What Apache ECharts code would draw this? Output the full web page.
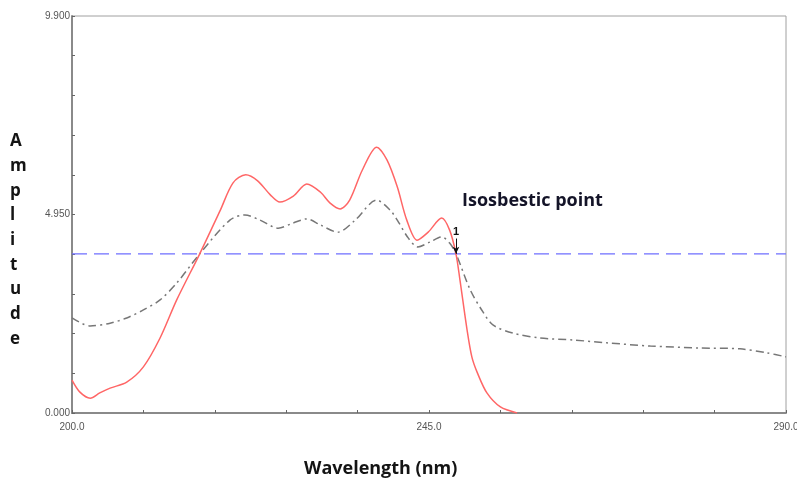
<!DOCTYPE html>
<html>
<head>
<meta charset="utf-8">
<script src="https://cdn.jsdelivr.net/npm/echarts@6/dist/echarts.min.js"></script>
<style>
html,body{margin:0;padding:0;background:#fff;}
#chart{width:797px;height:481px;}
</style>
</head>
<body>
<div id="chart"></div>
<script>
// red spectrum (solid)
var redWavelength=[200.0,201.0,202.3,203.5,204.8,206.9,209.0,211.1,213.2,216.1,218.7,220.3,221.9,223.4,225.0,226.2,227.9,229.6,231.3,232.5,233.8,235.0,236.6,238.4,239.7,241.0,242.2,243.5,244.9,246.6,247.6,248.4,248.9,249.8,250.4,251.1,252.3,254.0,256.1];
var redAmplitude=[0.82,0.52,0.37,0.50,0.62,0.77,1.15,1.87,2.82,3.97,5.06,5.74,5.94,5.79,5.44,5.26,5.41,5.71,5.51,5.24,5.09,5.31,6.06,6.63,6.31,5.64,4.81,4.31,4.51,4.86,4.56,3.97,3.32,2.07,1.40,1.00,0.50,0.15,0.00];
// grey spectrum (dash-dot)
var greyWavelength=[200.0,202.3,204.8,206.9,209.0,211.1,213.2,216.1,219.9,221.8,223.7,226.0,227.9,229.6,231.3,233.5,235.7,238.4,240.1,241.0,242.4,243.6,245.1,246.6,247.6,248.4,250.2,251.8,253.1,255.6,259.0,263.2,267.4,272.9,279.2,284.2,287.6,290.0];
var greyAmplitude=[2.37,2.17,2.24,2.37,2.57,2.82,3.24,3.97,4.81,4.94,4.81,4.61,4.74,4.84,4.69,4.51,4.81,5.31,5.06,4.81,4.36,4.14,4.26,4.39,4.24,3.97,3.07,2.52,2.19,1.99,1.87,1.82,1.75,1.67,1.62,1.60,1.50,1.40];
var isoLevel=3.97;
var isoPoint=[248.4,3.97];
var yTickLabels=[0,4.95,9.9];
var xTickLabels=[200,245,290];

function pairs(xs,ys){
    return xs.map(function(x,i){return [x,ys[i]];});
}

var chart=echarts.init(document.getElementById('chart'));
chart.setOption({
    animation:false,
    backgroundColor:'#fff',
    grid:{left:72,right:11,top:16,bottom:68,outerBoundsMode:'none',containLabel:false,show:true,borderColor:'#a0a0a0',borderWidth:1},
    xAxis:{
        type:'value',min:200,max:290,interval:9,
        axisLine:{lineStyle:{color:'#8a8a8a',width:2}},
        axisTick:{inside:true,length:3,lineStyle:{color:'#666'}},
        splitLine:{show:false},
        axisLabel:{
            margin:9,color:'#555',fontSize:10,fontFamily:'Liberation Sans',
            formatter:function(v){
                for(var i=0;i<xTickLabels.length;i++){
                    if(Math.abs(v-xTickLabels[i])<0.01) return v.toFixed(1);
                }
                return '';
            }
        }
    },
    yAxis:{
        type:'value',min:0,max:9.9,interval:0.99,
        axisLine:{show:true,lineStyle:{color:'#8a8a8a',width:2}},
        axisTick:{show:true,inside:true,length:3,lineStyle:{color:'#666'}},
        splitLine:{show:false},
        axisLabel:{
            margin:2,color:'#555',fontSize:10,fontFamily:'Liberation Sans',
            formatter:function(v){
                for(var i=0;i<yTickLabels.length;i++){
                    if(Math.abs(v-yTickLabels[i])<0.01) return yTickLabels[i].toFixed(3);
                }
                return '';
            }
        }
    },
    series:[
        {
            name:'isosbestic level',type:'line',
            data:[[200,isoLevel],[290,isoLevel]],
            showSymbol:false,silent:true,z:1,
            lineStyle:{color:'#6f6fff',width:1.3,type:[15,7]}
        },
        {
            name:'grey',type:'line',
            data:pairs(greyWavelength,greyAmplitude),
            smooth:0.3,showSymbol:false,z:2,
            lineStyle:{color:'#777',width:1.5,type:[8,4,2,4]}
        },
        {
            name:'red',type:'line',
            data:pairs(redWavelength,redAmplitude),
            smooth:0.3,showSymbol:false,z:3,
            lineStyle:{color:'#ff6666',width:1.5},
            markLine:{
                silent:true,
                symbol:['none','arrow'],
                symbolSize:[5,7],
                lineStyle:{color:'#111',width:1,type:'solid'},
                label:{show:true,position:'start',formatter:'1',color:'#111',fontSize:11,fontWeight:'bold',fontFamily:'Liberation Sans',distance:1},
                data:[[{coord:[isoPoint[0],isoPoint[1]+0.38]},{coord:isoPoint}]]
            }
        }
    ],
    graphic:[
        {
            type:'text',left:462,top:192,
            style:{text:'Isosbestic point',font:'bold 18px "Open Sans"',fill:'#141428'}
        },
        {
            type:'text',left:304,top:460,
            style:{text:'Wavelength (nm)',font:'bold 18px "Open Sans"',fill:'#141414'}
        },
        {
            type:'text',left:10,top:129,
            style:{text:'A\nm\np\nl\ni\nt\nu\nd\ne',font:'bold 17px "Open Sans"',lineHeight:24.7,fill:'#141414',align:'center',x:10}
        }
    ]
});
</script>
</body>
</html>
